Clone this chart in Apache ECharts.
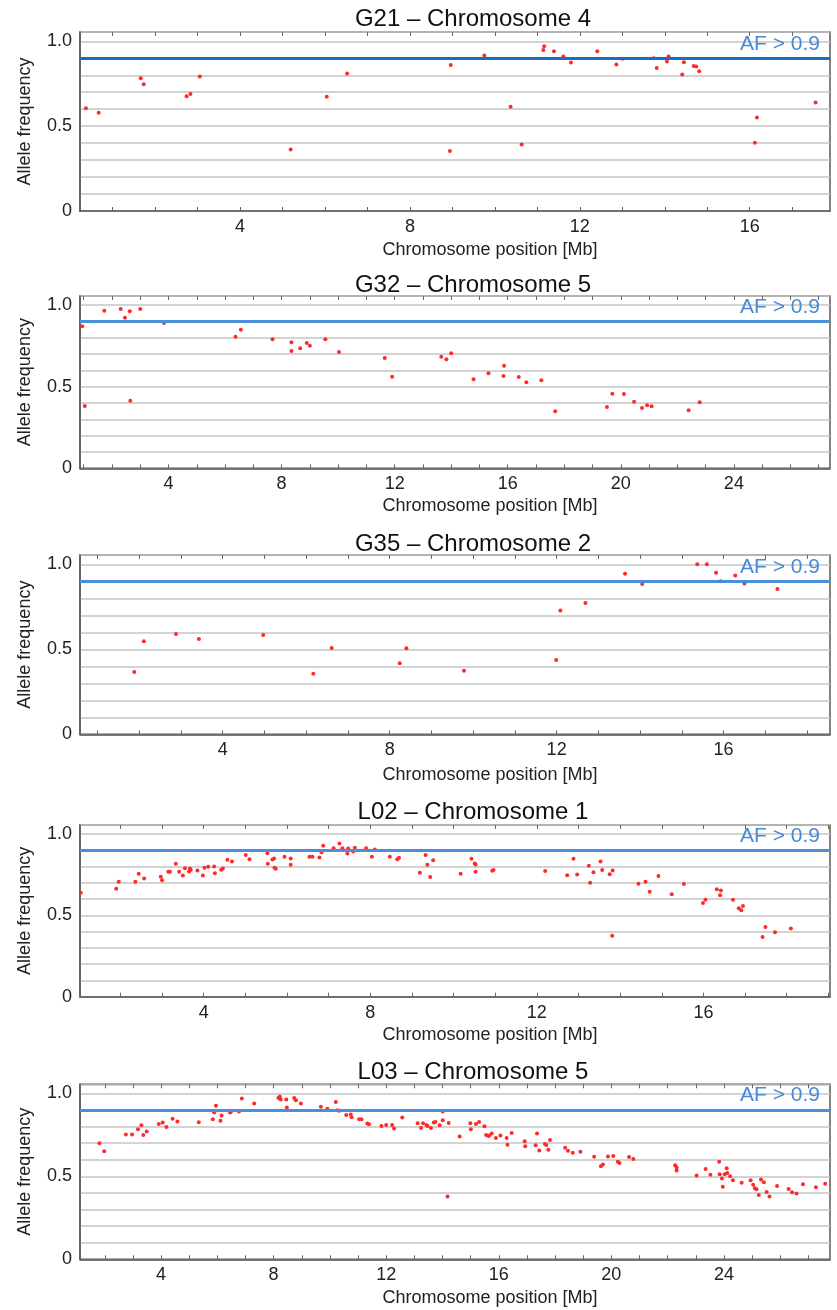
<!DOCTYPE html>
<html>
<head>
<meta charset="utf-8">
<script src="https://cdn.jsdelivr.net/npm/echarts@6/dist/echarts.min.js"></script>
<style>
html,body{margin:0;padding:0;background:#fff;}
#chart{width:837px;height:1310px;}
</style>
</head>
<body>
<div id="chart"></div>
<script>
// ---------- DATA ----------
const titles = ['G21 – Chromosome 4', 'G32 – Chromosome 5', 'G35 – Chromosome 2', 'L02 – Chromosome 1', 'L03 – Chromosome 5'];
const xTickLabels = [[4, 8, 12, 16], [4, 8, 12, 16, 20, 24], [4, 8, 12, 16], [4, 8, 12, 16], [4, 8, 12, 16, 20, 24]];
const yTickLabels = [0, 0.5, 1.0];
const afThreshold = 0.9;
const thresholdLabel = 'AF > 0.9';
const xAxisName = 'Chromosome position [Mb]';
const yAxisName = 'Allele frequency';

const g21Pos = [0.37,0.67,1.66,1.73,2.74,2.83,3.05,5.19,6.04,6.52,8.96,8.94,9.75,10.37,10.63,11.16,11.14,11.39,11.61,11.79,12.41,12.86,13.0,13.74,13.81,14.05,14.09,14.45,14.41,14.68,14.74,14.81,16.17,16.12,17.55];
const g21AF  = [0.606,0.579,0.782,0.747,0.676,0.690,0.792,0.363,0.673,0.810,0.861,0.353,0.916,0.614,0.392,0.971,0.949,0.941,0.910,0.875,0.941,0.863,0.898,0.900,0.843,0.881,0.910,0.877,0.804,0.855,0.851,0.824,0.551,0.402,0.639];

const g32Pos = [0.95,1.04,1.73,2.31,2.46,2.63,2.65,3.00,3.84,6.37,6.56,7.68,8.35,8.35,8.66,8.89,9.00,9.55,10.03,11.65,11.91,13.65,13.83,14.0,14.79,15.32,15.87,15.85,16.39,16.66,17.19,17.68,19.51,19.70,20.11,20.47,20.75,20.93,21.09,22.40,22.79];
const g32AF  = [0.870,0.381,0.965,0.975,0.922,0.961,0.414,0.975,0.890,0.806,0.849,0.790,0.772,0.718,0.735,0.767,0.751,0.790,0.712,0.675,0.561,0.683,0.667,0.704,0.545,0.582,0.628,0.565,0.559,0.527,0.539,0.349,0.375,0.457,0.455,0.408,0.369,0.386,0.380,0.355,0.404];

const g35Pos = [1.88,2.11,2.88,3.43,4.97,6.17,6.61,8.24,8.40,9.78,11.99,12.09,12.69,13.64,14.05,15.37,15.60,15.82,15.93,16.28,16.50,17.29];
const g35AF  = [0.366,0.547,0.590,0.561,0.584,0.356,0.508,0.418,0.506,0.374,0.437,0.729,0.772,0.945,0.884,1.0,1.0,0.951,0.900,0.935,0.888,0.855];

const l02Pos = [1.05,1.90,1.96,2.36,2.44,2.57,2.97,3.0,3.15,3.19,3.33,3.41,3.50,3.55,3.65,3.67,3.69,3.85,3.98,4.02,4.11,4.25,4.27,4.42,4.46,4.57,4.68,5.01,5.10,5.53,5.54,5.65,5.69,5.70,5.73,5.94,6.09,6.09,6.54,6.61,6.78,6.83,6.87,7.12,7.26,7.33,7.45,7.47,7.59,7.63,7.90,8.04,8.11,8.47,8.65,8.69,9.19,9.33,9.37,9.44,9.51,10.17,10.43,10.51,10.53,10.53,10.93,10.96,12.20,12.73,12.88,12.97,13.25,13.28,13.36,13.53,13.57,13.75,13.82,13.81,14.44,14.61,14.71,14.92,15.24,15.53,15.99,16.05,16.32,16.42,16.40,16.71,16.85,16.91,16.95,17.42,17.49,17.72,18.10];
const l02AF  = [0.639,0.664,0.707,0.707,0.756,0.727,0.737,0.716,0.768,0.768,0.817,0.768,0.745,0.790,0.770,0.788,0.780,0.776,0.745,0.792,0.798,0.800,0.759,0.780,0.788,0.841,0.831,0.870,0.845,0.882,0.817,0.843,0.849,0.792,0.786,0.860,0.849,0.811,0.860,0.860,0.855,0.888,0.927,0.912,0.941,0.912,0.880,0.911,0.892,0.915,0.912,0.860,0.904,0.860,0.845,0.854,0.762,0.870,0.811,0.735,0.839,0.756,0.847,0.819,0.813,0.768,0.774,0.778,0.772,0.747,0.847,0.751,0.804,0.700,0.765,0.831,0.778,0.753,0.776,0.374,0.694,0.707,0.645,0.741,0.629,0.692,0.576,0.596,0.660,0.652,0.623,0.596,0.543,0.531,0.557,0.367,0.429,0.396,0.419];

const l03Pos = [1.81,1.98,2.75,2.97,3.18,3.30,3.37,3.49,3.92,4.06,4.19,4.41,4.58,5.34,5.84,5.89,6.11,6.15,5.95,6.45,6.48,6.77,6.87,7.31,8.17,8.22,8.25,8.45,8.47,8.73,8.79,8.97,9.68,9.91,10.21,10.27,10.33,10.58,10.74,10.77,11.04,11.12,11.33,11.39,11.83,12.0,12.21,12.28,12.57,13.12,13.24,13.31,13.43,13.47,13.59,13.69,13.75,13.90,14.01,14.01,14.18,14.22,14.61,14.99,15.01,15.19,15.30,15.49,15.55,15.63,15.66,15.75,15.90,16.06,16.28,16.31,16.46,16.92,16.94,17.36,17.31,17.64,17.69,17.44,17.76,17.82,18.36,18.46,18.63,18.90,19.39,19.63,19.70,19.88,20.07,20.23,20.29,20.63,20.78,22.27,22.32,22.32,23.03,23.35,23.52,23.83,23.85,23.93,23.96,24.03,24.10,24.12,24.22,24.32,24.63,24.95,25.04,25.10,25.16,25.24,25.32,25.42,25.52,25.62,25.89,26.30,26.42,26.58,26.81,27.27,27.60];
const l03AF  = [0.699,0.652,0.752,0.752,0.784,0.808,0.749,0.770,0.816,0.824,0.798,0.848,0.830,0.826,0.844,0.885,0.836,0.867,0.925,0.885,0.889,0.891,0.970,0.939,0.973,0.982,0.964,0.964,0.915,0.972,0.959,0.939,0.919,0.907,0.949,0.899,0.895,0.870,0.873,0.856,0.844,0.844,0.818,0.814,0.804,0.810,0.810,0.788,0.855,0.820,0.792,0.820,0.810,0.804,0.792,0.824,0.828,0.808,0.838,0.891,0.378,0.822,0.741,0.820,0.784,0.816,0.828,0.802,0.749,0.743,0.747,0.759,0.731,0.747,0.731,0.691,0.761,0.711,0.682,0.758,0.687,0.695,0.689,0.656,0.661,0.719,0.673,0.655,0.642,0.648,0.618,0.561,0.572,0.620,0.622,0.588,0.580,0.616,0.604,0.567,0.553,0.535,0.505,0.545,0.509,0.588,0.513,0.487,0.438,0.513,0.549,0.521,0.501,0.476,0.461,0.476,0.450,0.428,0.422,0.388,0.481,0.464,0.406,0.378,0.442,0.424,0.404,0.396,0.452,0.434,0.456];

const positions = [g21Pos, g32Pos, g35Pos, l02Pos, l03Pos];
const freqs = [g21AF, g32AF, g35AF, l02AF, l03AF];

// ---------- LAYOUT (styling only) ----------
const layout = [
  {top: 32,    height: 179,   xMin: 0.23, xMax: 17.89, titleTop: 2.5,  nameGap: 30, lineColor: '#1a6ec2'},
  {top: 296,   height: 172.3, xMin: 0.87, xMax: 27.4,  titleTop: 268.5, nameGap: 29, lineColor: '#4a90d9'},
  {top: 555,   height: 179.3, xMin: 0.58, xMax: 18.55, titleTop: 527,  nameGap: 32, lineColor: '#4a90d9'},
  {top: 825,   height: 171.7, xMin: 1.03, xMax: 19.04, titleTop: 795.5, nameGap: 29, lineColor: '#4a90d9'},
  {top: 1084.3,height: 175,   xMin: 1.12, xMax: 27.77, titleTop: 1055.5, nameGap: 30, lineColor: '#4a90d9'}
];
const FONT = '"Liberation Sans", Arial, Helvetica, sans-serif';

const chart = echarts.init(document.getElementById('chart'), null, {renderer: 'canvas'});

const grid = [], xAxis = [], yAxis = [], series = [], title = [];
layout.forEach((L, i) => {
  grid.push({left: 80, width: 750, top: L.top, height: L.height, show: true,
             borderColor: '#5a5a5a', borderWidth: 1.5, backgroundColor: '#fff', containLabel: false});
  const ticks = [];
  for (let t = Math.ceil(L.xMin); t <= Math.floor(L.xMax); t++) ticks.push(t);
  xAxis.push({
    type: 'value', gridIndex: i, min: L.xMin, max: L.xMax, position: 'bottom',
    name: xAxisName, nameLocation: 'middle', nameGap: L.nameGap,
    nameTextStyle: {fontFamily: FONT, fontSize: 18, color: '#222', padding: [0, 0, 0, 70]},
    axisLine: {show: true, lineStyle: {color: '#5a5a5a', width: 1.5}},
    axisTick: {show: true, inside: true, length: 4, customValues: ticks, lineStyle: {color: '#666'}},
    axisLabel: {show: true, customValues: xTickLabels[i], fontFamily: FONT, fontSize: 18, color: '#222', margin: 7},
    splitLine: {show: false}
  });
  xAxis.push({
    type: 'value', gridIndex: i, min: L.xMin, max: L.xMax, position: 'top',
    axisLine: {show: false},
    axisTick: {show: true, inside: true, length: 4, customValues: ticks, lineStyle: {color: '#666'}},
    axisLabel: {show: false}, splitLine: {show: false}
  });
  yAxis.push({
    type: 'value', gridIndex: i, min: 0, max: 1.055, interval: 0.1,
    name: yAxisName, nameLocation: 'middle', nameGap: 46,
    nameTextStyle: {fontFamily: FONT, fontSize: 18, color: '#222'},
    axisLine: {show: true, lineStyle: {color: '#5a5a5a', width: 1.5}},
    axisTick: {show: false},
    axisLabel: {fontFamily: FONT, fontSize: 18, color: '#222', margin: 8,
      formatter: v => {
        for (const t of yTickLabels) if (Math.abs(v - t) < 1e-6) return t === 0 ? '0' : t.toFixed(1);
        return '';
      }},
    splitLine: {show: true, lineStyle: {color: '#c4c4c4', width: 1.5}}
  });
  title.push({text: titles[i], left: 468, top: L.titleTop, textAlign: 'center',
    textStyle: {fontFamily: FONT, fontSize: 24, fontWeight: 'normal', color: '#111'}});
  series.push({
    type: 'scatter', xAxisIndex: i * 2, yAxisIndex: i,
    data: positions[i].map((p, k) => [p, freqs[i][k]]),
    symbol: 'circle', symbolSize: 4,
    itemStyle: {color: '#ff2a2a', opacity: 1},
    silent: true, animation: false, z: 3,
    markLine: {
      silent: true, symbol: 'none', animation: false,
      lineStyle: {color: L.lineColor, width: 3, type: 'solid'},
      label: {show: true, position: 'insideEndTop', formatter: thresholdLabel,
              fontFamily: FONT, fontSize: 21, color: '#4a8ad4', distance: [10, 4]},
      data: [{yAxis: afThreshold}]
    }
  });
});

chart.setOption({animation: false, backgroundColor: '#fff', title, grid, xAxis, yAxis, series});
</script>
</body>
</html>
